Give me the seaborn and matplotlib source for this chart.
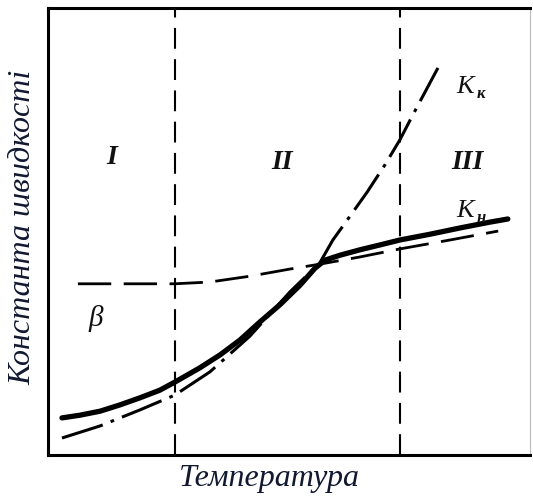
import numpy as np
import pandas as pd
import matplotlib
matplotlib.use("Agg")
import matplotlib.pyplot as plt
import seaborn as sns

# Values (arbitrary units, 0..100 on both axes)
temp_n = [2.9, 6.6, 10.8, 14.9, 19.1, 23.2, 26.3, 31.5, 35.7, 39.8, 44.0,
          48.1, 52.3, 55.4, 57.5, 60.6, 64.7, 68.9, 73.0, 79.3, 85.5, 91.7, 95.4]
k_n = [8.3, 8.9, 9.8, 11.2, 12.8, 14.5, 16.3, 19.5, 22.4, 25.7, 29.8,
       33.6, 38.0, 41.8, 43.6, 44.7, 45.9, 47.0, 48.1, 49.4, 50.8, 52.1, 52.8]

temp_k = [2.9, 10.8, 19.1, 26.3, 33.6, 41.9, 50.2, 56.4, 59.1, 62.7, 66.2,
          69.9, 73.0, 75.7, 80.9]
k_k = [3.8, 6.5, 10.1, 13.4, 18.6, 26.6, 36.5, 43.0, 48.1, 53.5, 58.8,
       64.9, 70.5, 76.1, 86.6]

temp_b = [6.2, 26.3, 33.6, 41.9, 50.2, 56.4, 64.7, 73.0, 83.4, 93.4]
beta = [38.3, 38.3, 38.7, 40.0, 41.6, 42.7, 44.3, 46.1, 48.1, 50.1]

region_bounds = [26.3, 73.0]
region_labels = ["I", "II", "III"]

sns.set_style("white")
plt.rcParams["font.family"] = ["Liberation Serif", "DejaVu Serif"]

fig = plt.figure(figsize=(5.33, 4.96), dpi=100)
ax = fig.add_axes([48 / 533, 41 / 496, 482 / 533, 447 / 496])

sns.lineplot(x=temp_n, y=k_n, ax=ax, color="black", lw=3.8, sort=False)
sns.lineplot(x=temp_k, y=k_k, ax=ax, color="black", lw=2.2, sort=False
             ).lines[-1].set_dashes([14, 2.8, 1.2, 2.8])
sns.lineplot(x=temp_b, y=beta, ax=ax, color="black", lw=2.0, sort=False
             ).lines[-1].set_dashes([12, 4.5])
for xb in region_bounds:
    ax.axvline(xb, color="black", lw=1.5, dashes=(10, 5))

ax.set_xlim(0, 100)
ax.set_ylim(0, 100)
ax.set_xticks([])
ax.set_yticks([])
for s in ["left", "bottom", "top"]:
    ax.spines[s].set_linewidth(2.2)
    ax.spines[s].set_color("black")
ax.spines["right"].set_linewidth(0.8)
ax.spines["right"].set_color("#bbbbbb")

lab = dict(fontstyle="italic", fontweight="bold", fontsize=20, ha="center",
           va="center", color="#111111")
ax.text(13.3, 66.5, region_labels[0], **lab)
ax.text(48.5, 65.5, region_labels[1], **lab)
ax.text(87, 65.5, region_labels[2], **lab)

sym = dict(fontstyle="italic", ha="center", va="center", color="#111111")
ax.text(86.5, 82.3, "K", fontsize=19, **sym)
ax.text(89.8, 80.8, "к", fontsize=12, fontweight="bold", **sym)
ax.text(86.5, 54.5, "K", fontsize=19, **sym)
ax.text(89.8, 53.0, "н", fontsize=12, fontweight="bold", **sym)
ax.text(9.8, 30.5, "β", fontsize=21, **sym)

ax.set_xlabel("Температура", fontsize=23, fontstyle="italic", color="#111830")
ax.xaxis.set_label_coords(0.46, -0.02)
ax.xaxis.label.set_va("top")
ax.set_ylabel("Константа швидкості", fontsize=23, fontstyle="italic",
              color="#111830")
ax.yaxis.set_label_coords(-0.022, 0.51)

fig.savefig("out.png", dpi=100)
